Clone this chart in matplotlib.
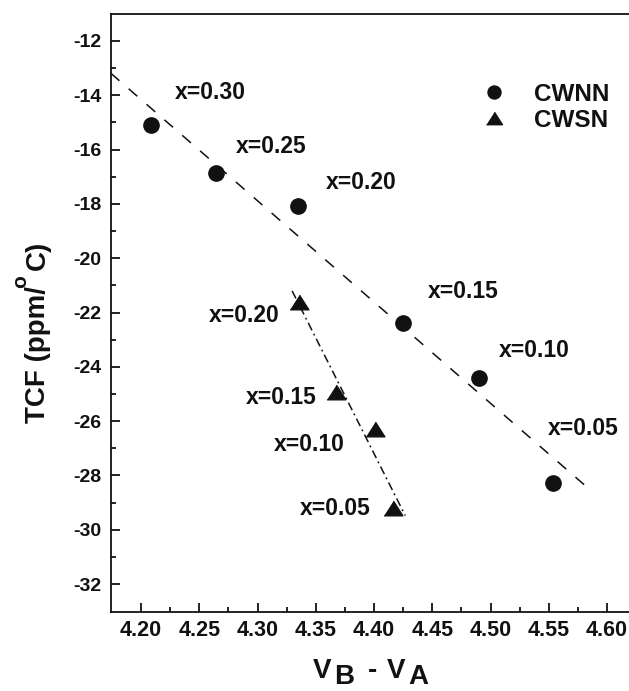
import numpy as np
import matplotlib
matplotlib.use("Agg")
import matplotlib.pyplot as plt

plt.rcParams['font.family'] = ['Liberation Sans', 'DejaVu Sans']
plt.rcParams['font.weight'] = 'bold'
plt.rcParams['axes.unicode_minus'] = False

# ---- data ----
cwnn_x = [4.2086, 4.2644, 4.3349, 4.4250, 4.4904, 4.5540]
cwnn_y = [-15.09, -16.86, -18.08, -22.39, -24.41, -28.28]
cwnn_labels = ['x=0.30', 'x=0.25', 'x=0.20', 'x=0.15', 'x=0.10', 'x=0.05']

cwsn_x = [4.3357, 4.3675, 4.4010, 4.4165]
cwsn_y = [-21.60, -24.93, -26.29, -29.20]
cwsn_labels = ['x=0.20', 'x=0.15', 'x=0.10', 'x=0.05']

cwnn_fit_range = [4.174, 4.5875]
cwsn_fit_range = [4.3297, 4.4268]

xticks = [4.20, 4.25, 4.30, 4.35, 4.40, 4.45, 4.50, 4.55, 4.60]
yticks = [-32, -30, -28, -26, -24, -22, -20, -18, -16, -14, -12]

# ---- layout / style ----
cwnn_offsets = [(17, 23), (14, 19), (20, 17), (18, 23), (14, 20), (-4, 39)]
cwsn_offsets = [(-14, -10), (-14, -4), (-22, -11.5), (-16, 0)]

W, H = 629, 691
fig = plt.figure(figsize=(W / 100, H / 100), dpi=100)
ax = fig.add_axes([111 / W, 1 - 612 / H, 1 - 111 / W, (612 - 14) / H])

tri = [(-1, -0.78), (1, -0.78), (0, 0.78)]
ink = '#111111'

ax.plot(cwnn_x, cwnn_y, linestyle='none', marker='o', ms=11, color=ink, label='CWNN')
ax.plot(cwsn_x, cwsn_y, linestyle='none', marker=tri, ms=13.5, color=ink, label='CWSN')

# linear fits
p1 = np.polyfit(cwnn_x, cwnn_y, 1)
xf1 = np.linspace(cwnn_fit_range[0], cwnn_fit_range[1], 50)
ax.plot(xf1, np.polyval(p1, xf1), color=ink, lw=1.1, dashes=(7.5, 8))

p2 = np.polyfit(cwsn_x, cwsn_y, 1)
xf2 = np.linspace(cwsn_fit_range[0], cwsn_fit_range[1], 50)
ax.plot(xf2, np.polyval(p2, xf2), color=ink, lw=1.1, dashes=(5.5, 2.5, 1.2, 2.5))

for xv, yv, lab, off in zip(cwnn_x, cwnn_y, cwnn_labels, cwnn_offsets):
    ax.annotate(lab, (xv, yv), xytext=off, textcoords='offset points',
                ha='left', va='center', fontsize=16.5, fontweight='bold', color=ink)
for xv, yv, lab, off in zip(cwsn_x, cwsn_y, cwsn_labels, cwsn_offsets):
    ax.annotate(lab, (xv, yv), xytext=off, textcoords='offset points',
                ha='right', va='center', fontsize=16.5, fontweight='bold', color=ink)

ax.set_xlim(4.1742, 4.6189)
ax.set_ylim(-33.03, -11.006)
ax.set_xticks(xticks)
ax.set_xticklabels([f'{v:.2f}' for v in xticks])
ax.set_yticks(yticks)
ax.set_yticklabels([f'{v:d}' for v in yticks])
ax.set_xticks(np.arange(4.225, 4.6, 0.05), minor=True)
ax.set_yticks(np.arange(-31, -12, 2), minor=True)

ax.tick_params(which='both', direction='in', top=False, right=False, width=1.3, color=ink)
ax.tick_params(which='major', length=6.5)
ax.tick_params(which='minor', length=3.6)
ax.tick_params(axis='x', labelsize=15.5, pad=6)
ax.tick_params(axis='y', labelsize=14, pad=7)
for t in ax.get_xticklabels() + ax.get_yticklabels():
    t.set_fontweight('bold')
    t.set_color(ink)

ax.spines['right'].set_visible(False)
for s in ['left', 'bottom', 'top']:
    ax.spines[s].set_linewidth(1.3)
    ax.spines[s].set_color(ink)

leg = ax.legend(loc='upper left', bbox_to_anchor=(0.692, 0.905), frameon=False,
                borderpad=0, handlelength=1.0, handletextpad=1.15, labelspacing=0.12,
                markerscale=0.85, prop={'size': 17.5, 'weight': 'bold'})
for t in leg.get_texts():
    t.set_color(ink)

# y label pieces: TCF (ppm/ °C) with a full-size raised "o"
yl = [('TCF (ppm/', 45, 423, 20), ('o', 26, 288, 15), ('C)', 45, 270, 20)]
for s, px, py, fs in yl:
    fig.text(px / W, 1 - py / H, s, rotation=90, rotation_mode='anchor',
             ha='left', va='baseline', fontsize=fs, fontweight='bold', color=ink)

# x label pieces: V_B - V_A with full-size subscripts
xl = [('V', 313, 678), ('B', 334, 684), ('-', 368, 678), ('V', 387, 678), ('A', 408, 684)]
for s, px, py in xl:
    fig.text(px / W, 1 - py / H, s, ha='left', va='baseline', fontsize=20,
             fontweight='bold', color=ink)

fig.savefig('out.png', dpi=100)
